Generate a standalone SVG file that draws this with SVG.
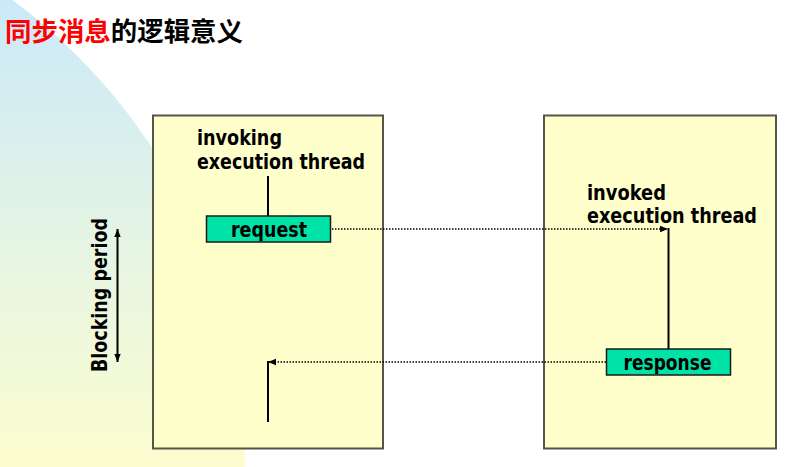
<svg xmlns="http://www.w3.org/2000/svg" width="793" height="467" viewBox="0 0 793 467">
  <defs>
    <linearGradient id="bg" x1="0" y1="0" x2="0" y2="467" gradientUnits="userSpaceOnUse">
      <stop offset="0" stop-color="#CBE9FA"/>
      <stop offset="0.5" stop-color="#E4F4E4"/>
      <stop offset="1" stop-color="#FCFDCF"/>
    </linearGradient>
    <marker id="ah" viewBox="0 0 8 8" refX="8" refY="4" markerWidth="8" markerHeight="8" markerUnits="userSpaceOnUse" orient="auto-start-reverse">
      <path d="M0,0.8 L8,4 L0,7.2 Z" fill="#000"/>
    </marker>
    <style>
      .box { fill: #FFFFCC; stroke: #55554A; stroke-width: 2; }
      .msg { fill: #00E3A6; stroke: #1A1A1A; stroke-width: 1.5; }
      .lbl { font-family: "DejaVu Sans", Verdana, sans-serif; font-weight: bold; font-size: 20.5px; fill: #000; }
      .solid { stroke: #000; stroke-width: 2; fill: none; }
      .dot { stroke: #000; stroke-width: 1.6; fill: none; stroke-dasharray: 1.5 1.5; }
      .title { font-family: "Noto Sans CJK SC", "Noto Sans CJK TC", sans-serif; font-weight: bold; font-size: 26px; }
    </style>
  </defs>

  <rect width="793" height="467" fill="#FFFFFF"/>
  <circle cx="-326" cy="460" r="571" fill="url(#bg)"/>

  <g id="title">
    <text class="title" x="5" y="41" textLength="238" lengthAdjust="spacingAndGlyphs"><tspan fill="#FF0000">同步消息</tspan><tspan fill="#000000">的逻辑意义</tspan></text>
  </g>

  <g id="invoking-thread">
    <rect class="box" x="153" y="115.5" width="230" height="333"/>
    <text class="lbl" x="197" y="145" textLength="85" lengthAdjust="spacingAndGlyphs">invoking</text>
    <text class="lbl" x="197" y="168.5" textLength="168" lengthAdjust="spacingAndGlyphs">execution thread</text>
  </g>

  <g id="invoked-thread">
    <rect class="box" x="544" y="115.5" width="232" height="333"/>
    <text class="lbl" x="587" y="199.5" textLength="79" lengthAdjust="spacingAndGlyphs">invoked</text>
    <text class="lbl" x="587" y="223" textLength="170" lengthAdjust="spacingAndGlyphs">execution thread</text>
  </g>

  <g id="connectors">
    <line class="solid" x1="268" y1="176" x2="268" y2="216"/>
    <line class="dot" x1="332" y1="229" x2="668" y2="229" marker-end="url(#ah)"/>
    <line class="solid" x1="668.5" y1="228" x2="668.5" y2="349"/>
    <line class="dot" x1="606" y1="362" x2="268" y2="362" marker-end="url(#ah)"/>
    <line class="solid" x1="268" y1="361" x2="268" y2="422"/>
    <line class="solid" x1="117.5" y1="229" x2="117.5" y2="362" stroke-width="1.5" marker-start="url(#ah)" marker-end="url(#ah)"/>
  </g>

  <g id="request">
    <rect class="msg" x="206.5" y="216" width="124" height="26"/>
    <text class="lbl" x="231" y="236.5" textLength="76" lengthAdjust="spacingAndGlyphs">request</text>
  </g>

  <g id="response">
    <rect class="msg" x="606.5" y="349" width="124" height="26"/>
    <text class="lbl" x="623.5" y="369.5" textLength="88" lengthAdjust="spacingAndGlyphs">response</text>
  </g>

  <g id="blocking-period">
    <text class="lbl" x="0" y="0" transform="translate(107 372) rotate(-90)" textLength="154" lengthAdjust="spacingAndGlyphs">Blocking period</text>
  </g>
</svg>
